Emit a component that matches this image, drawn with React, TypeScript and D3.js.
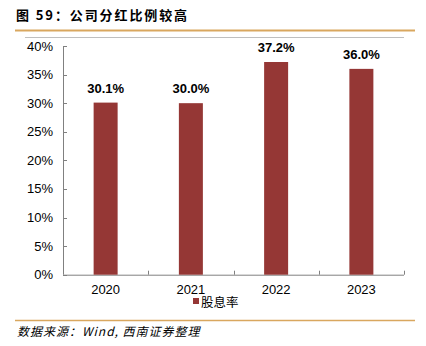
import React from "react";
import * as d3 from "d3";

const categories = ["2020", "2021", "2022", "2023"];
const dividendRatio = [30.1, 30.0, 37.2, 36.0];
const yTicks = [0, 5, 10, 15, 20, 25, 30, 35, 40];
const seriesName = "股息率";
const titlePrefix = "图 59：";
const titleText = "公司分红比例较高";
const source = "数据来源：Wind, 西南证券整理";

export default function App() {
  const W = 426, H = 346;
  const left = 63, right = 404, top = 46, bottom = 274.7;
  const x = d3.scaleBand<string>().domain(categories).range([left, right]).paddingInner(0).paddingOuter(0);
  const y = d3.scaleLinear().domain([0, 40]).range([bottom, top]);
  const barW = 24;
  const barColor = "#953735";
  const font = "'Liberation Sans', Arial, sans-serif";
  const cjk = "'Noto Sans CJK SC', sans-serif";
  return (
    <svg width={W} height={H} style={{ position: "absolute", left: 0, top: 0, background: "#fff" }}>
      <text x={16} y={20} fontFamily={cjk} fontWeight="bold" fontSize={13} fill="#000" letterSpacing={1.9}>
        {titlePrefix + titleText}
      </text>
      <line x1={15} x2={415} y1={30.5} y2={30.5} stroke="#D9A75F" strokeWidth={2} />
      <line x1={25} x2={404} y1={37.5} y2={37.5} stroke="#BFBFBF" strokeWidth={1} />
      {/* y axis */}
      <line x1={left + 0.5} x2={left + 0.5} y1={top} y2={bottom} stroke="#808080" />
      {yTicks.map((t) => (
        <g key={t}>
          <line x1={left} x2={left + 4} y1={Math.round(y(t)) + 0.5} y2={Math.round(y(t)) + 0.5} stroke="#808080" />
          <text x={53} y={y(t) + 4.5} textAnchor="end" fontFamily={font} fontSize={13} fill="#000">{t + "%"}</text>
        </g>
      ))}
      {/* x axis */}
      <line x1={left} x2={right} y1={bottom + 0.5} y2={bottom + 0.5} stroke="#808080" />
      {categories.map((c) => (
        <line key={"t" + c} x1={Math.round(x(c)! + x.bandwidth()) + 0.5} x2={Math.round(x(c)! + x.bandwidth()) + 0.5}
          y1={bottom - 4} y2={bottom} stroke="#808080" />
      ))}
      {categories.map((c, i) => {
        const cx = x(c)! + x.bandwidth() / 2;
        return (
          <g key={c}>
            <rect x={cx - barW / 2} y={y(dividendRatio[i])} width={barW} height={bottom - y(dividendRatio[i])} fill={barColor} />
            <text x={cx} y={y(dividendRatio[i]) - 10} textAnchor="middle" fontFamily={font} fontWeight="bold" fontSize={13} fill="#000">
              {dividendRatio[i].toFixed(1) + "%"}
            </text>
            <text x={cx} y={bottom + 19} textAnchor="middle" fontFamily={font} fontSize={13} fill="#000">{c}</text>
          </g>
        );
      })}
      {/* legend */}
      <rect x={193} y={298} width={6} height={6} fill={barColor} />
      <text x={201} y={306.5} fontFamily={cjk} fontSize={12.5} fill="#000">{seriesName}</text>
      <line x1={15} x2={415} y1={320.5} y2={320.5} stroke="#D9A75F" strokeWidth={1.5} />
      <text x={17} y={336} fontFamily={cjk} fontStyle="italic" fontSize={12} fill="#000" letterSpacing={1}>{source}</text>
    </svg>
  );
}
